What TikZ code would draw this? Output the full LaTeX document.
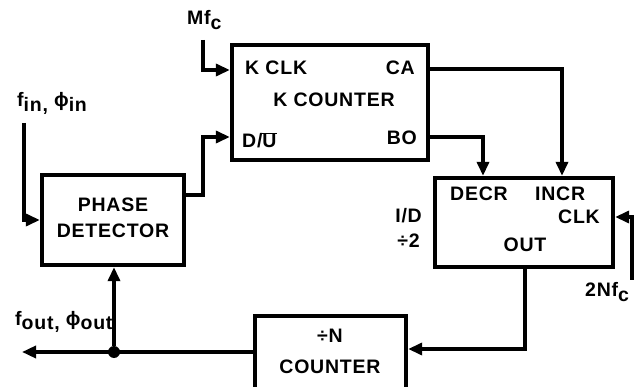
\documentclass[tikz,border=0pt]{standalone}
\usepackage{fontspec}
\setmainfont[LetterSpace=4]{Liberation Sans}
\usetikzlibrary{arrows.meta,calc}
\newcommand\sbs[1]{\raisebox{-0.45ex}{#1}}
\begin{document}
\begin{tikzpicture}[x=1pt,y=-1pt,
 box/.style={draw, line width=4.3pt, rectangle, inner sep=0pt},
 lbl/.style={font=\bfseries\fontsize{19.5}{22}\selectfont, inner sep=0pt},
 wire/.style={line width=3.4pt},
 arr/.style={wire, -{Triangle[length=14pt,width=12pt]}}]
\useasboundingbox (0,0) rectangle (637,387);
\clip (0,0) rectangle (637,387);
% boxes
\node[box, minimum width=196pt, minimum height=115pt] (K) at (330,102.5) {};
\node[box, minimum width=142pt, minimum height=90pt] (PD) at (113,220) {};
\node[box, minimum width=178pt, minimum height=89pt] (ID) at (524,222.5) {};
\node[box, minimum width=151pt, minimum height=90pt] (N) at (330.5,361) {};
% texts
\node[lbl, anchor=base west] (kclk) at (245,75) {K CLK};
\node[lbl, anchor=base east] (ca) at (415,75) {CA};
\node[lbl, anchor=base] (kcnt) at (334,107) {K COUNTER};
\node[lbl, anchor=base west] (du) at (242,148) {D/$\overline{\hbox{U}}$};
\node[lbl, anchor=base east] (bo) at (417,145) {BO};
\node[lbl, anchor=base] (ph) at (113,212) {PHASE};
\node[lbl, anchor=base] (det) at (113,238) {DETECTOR};
\node[lbl, anchor=base west] (decr) at (450,201) {DECR};
\node[lbl, anchor=base west] (incr) at (535,201) {INCR};
\node[lbl, anchor=base east] (clk) at (600,224) {CLK};
\node[lbl, anchor=base] (out) at (525,252) {OUT};
\node[lbl, anchor=base east] (idl) at (422,223) {I/D};
\node[lbl, anchor=base east] (div2) at (420,248) {÷2};
\node[lbl, anchor=base] (divn) at (330,342) {÷N};
\node[lbl, anchor=base] (ncnt) at (330,373) {COUNTER};
\node[lbl, anchor=base west] (mfc) at (187,25) {Mf\sbs{c}};
\node[lbl, anchor=base west] (fin) at (17,107) {f\sbs{in,} \char"03D5\sbs{in}};
\node[lbl, anchor=base west] (fout) at (15,325) {f\sbs{out,} \char"03D5\sbs{out}};
\node[lbl, anchor=base west] (nfc) at (585,297) {2Nf\sbs{c}};
% connectors
\coordinate (mfstart) at (203,40);
\coordinate (finstart) at (24,123);
\coordinate (nfstart) at (632,280);
\coordinate (foutend) at (22,352);
\node[circle, fill, inner sep=0pt, minimum size=12pt] (dot) at (114,352) {};
\draw[arr] (mfstart) |- (K.west |- 0,70);
\draw[arr] (PD.east |- 0,195) -- (203,195) -- (203,137) -- (K.west |- 0,137);
\draw[arr] (finstart) |- (PD.west |- 0,220);
\draw[arr] (K.east |- 0,137) -| (ID.north -| 483,0);
\draw[arr] (K.east |- 0,69) -| (ID.north -| 562,0);
\draw[arr] (nfstart) |- (ID.east |- 0,217);
\draw[arr] (ID.south -| 525,0) |- (N.east |- 0,349);
\draw[arr] (N.west |- 0,352) -- (foutend);
\draw[arr] (dot) -- (PD.south -| dot);
\end{tikzpicture}
\end{document}
